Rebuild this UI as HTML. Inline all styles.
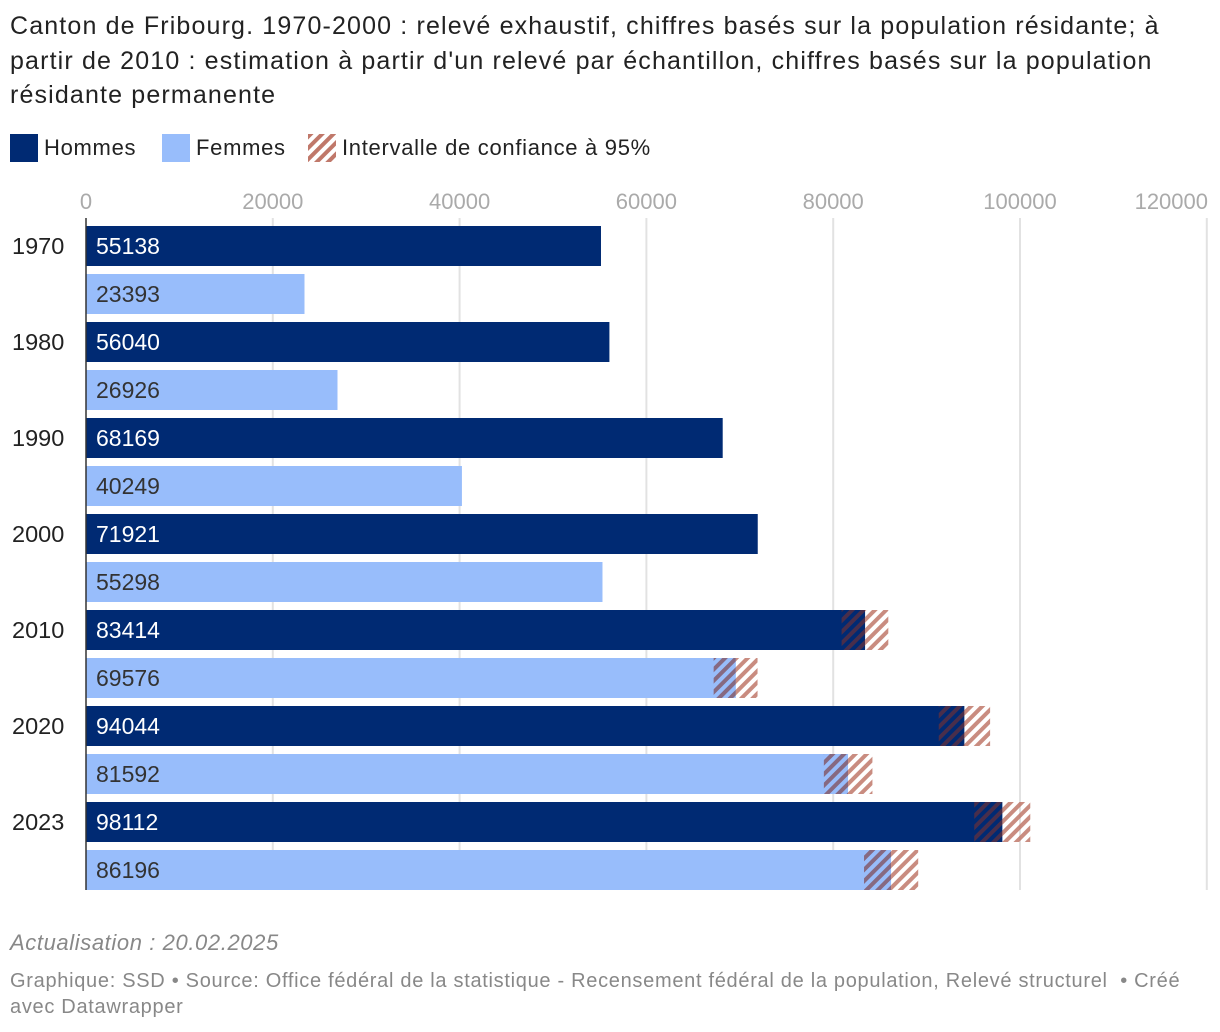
<!DOCTYPE html>
<html><head><meta charset="utf-8"><style>
body{margin:0;width:1220px;height:1032px;background:#fff;font-family:"Liberation Sans",Arial,sans-serif;overflow:hidden;position:relative}
.t{position:absolute;left:10px;top:9px;font-size:25px;line-height:34.5px;color:#222;width:1210px;white-space:nowrap;letter-spacing:1.15px}
.leg{position:absolute;top:134px;font-size:22px;color:#222;display:flex;align-items:center;letter-spacing:0.7px}
.sw{width:28px;height:28px;margin-right:6px}
.foot{position:absolute;left:10px;color:#888;white-space:nowrap}
</style></head><body>
<div class="t">Canton de Fribourg. 1970-2000 : relevé exhaustif, chiffres basés sur la population résidante; à<br>partir de 2010 : estimation à partir d'un relevé par échantillon, chiffres basés sur la population<br>résidante permanente</div>
<div class="leg" style="left:10px"><div class="sw" style="background:#002a73"></div>Hommes</div>
<div class="leg" style="left:162px"><div class="sw" style="background:#98bdfb"></div>Femmes</div>
<div class="leg" style="left:308px"><svg class="sw" width="28" height="28"><defs><pattern id="hl" width="8" height="8" patternUnits="userSpaceOnUse" patternTransform="rotate(45)"><rect width="4" height="8" fill="#c0786a"/></pattern></defs><rect width="28" height="28" fill="url(#hl)"/></svg>Intervalle de confiance à 95%</div>
<svg id="c" width="1220" height="1032" style="position:absolute;left:0;top:0">
<defs><pattern id="h" width="8" height="8" patternUnits="userSpaceOnUse" patternTransform="rotate(45)"><rect width="4" height="8" fill="#c0786a" fill-opacity="0.85"/></pattern>
<pattern id="hd" width="8" height="8" patternUnits="userSpaceOnUse" patternTransform="rotate(45)"><rect width="4" height="8" fill="#7a3030" fill-opacity="0.6"/></pattern></defs>
</svg>
<div class="foot" style="top:930px;font-size:22px;font-style:italic;letter-spacing:0.6px">Actualisation : 20.02.2025</div>
<div class="foot" style="top:968px;font-size:20px;line-height:26px;letter-spacing:0.7px">Graphique: SSD • Source: Office fédéral de la statistique - Recensement fédéral de la population, Relevé structurel &nbsp;• Créé<br>avec Datawrapper</div>
<script>
const years=["1970","1980","1990","2000","2010","2020","2023"];
const hommes=[55138,56040,68169,71921,83414,94044,98112];
const femmes=[23393,26926,40249,55298,69576,81592,86196];
const ciH=[null,null,null,null,[80900,85900],[91300,96800],[95100,101100]];
const ciF=[null,null,null,null,[67200,71900],[79000,84200],[83300,89100]];
const ticks=[0,20000,40000,60000,80000,100000,120000];
const NS="http://www.w3.org/2000/svg",svg=document.getElementById('c');
const x=v=>86+v*0.00934;
function mk(t,a){const e=document.createElementNS(NS,t);for(const k in a)e.setAttribute(k,a[k]);svg.appendChild(e);return e;}
ticks.forEach(t=>{
 if(t>0){const g=mk('line',{x1:x(t),x2:x(t),y1:218,y2:890,stroke:'#e2e2e2','stroke-width':2});
 
 }
 const l=mk('text',{x:t===120000?1208:x(t),y:209,'font-size':22,fill:'#aaa','text-anchor':t===120000?'end':'middle'});
 l.textContent=t;
 
 
});
years.forEach((yr,i)=>{
 const y0=226+i*96;
 const yl=mk('text',{x:12,y:y0+28,'font-size':23.5,fill:'#222'});yl.textContent=yr;
 
 
 [[hommes,ciH,'#002a73','#fff','hd'],[femmes,ciF,'#98bdfb','#333','hd']].forEach(([arr,ci,col,tc,pd],j)=>{
  const yy=y0+j*48,v=arr[i];
  const b=mk('rect',{x:86,y:yy,width:x(v)-86,height:40,fill:col});
  
  
  if(ci[i]){
   const d=mk('rect',{x:x(ci[i][0]),y:yy,width:x(v)-x(ci[i][0]),height:40,fill:'url(#'+pd+')'});
   
   
   const h=mk('rect',{x:x(v),y:yy,width:x(ci[i][1])-x(v),height:40,fill:'url(#h)'});
   
   
  }
  const t=mk('text',{x:96,y:yy+28,'font-size':23,fill:tc});t.textContent=v;
  
  
 });
});
const ax=mk('line',{x1:86,x2:86,y1:218,y2:890,stroke:'#333','stroke-width':1.5});


</script>
</body></html>
